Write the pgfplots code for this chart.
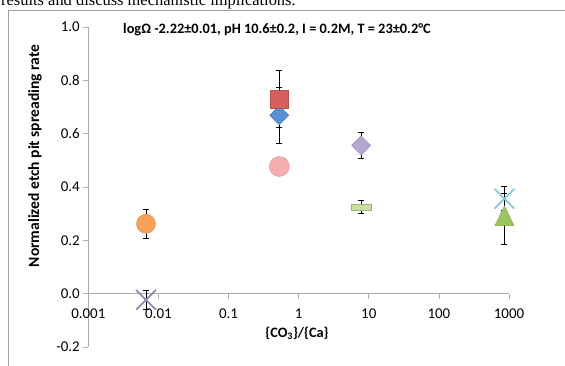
\documentclass[border=0pt]{standalone}
\usepackage{pgfplots}
\pgfplotsset{compat=1.18}
\usepackage{fontspec}
\setmainfont{Carlito}
\newfontfamily\serifdoc{Liberation Serif}
\definecolor{cRed}{HTML}{D6605E}
\definecolor{cBlue}{HTML}{5B8FD3}
\definecolor{cPink}{HTML}{F4AEAE}
\definecolor{cPurple}{HTML}{B6A6D3}
\definecolor{cLgreen}{HTML}{C9DFA0}
\definecolor{cOrange}{HTML}{F9A257}
\definecolor{cGreen}{HTML}{9CC45E}
\definecolor{cLblue}{HTML}{8CC6DA}
\definecolor{cGray}{HTML}{9488B0}
\begin{document}
\begin{tikzpicture}[x=1bp,y=1bp]
\useasboundingbox (0,0) rectangle (565,365);
\node[anchor=base west, font=\serifdoc\fontsize{16.5}{20}\selectfont, inner sep=0] at (1,360) {results and discuss mechanistic implications.};
\draw[gray!75, line width=0.8bp] (8,-5) -- (8,355) -- (575,355);
\begin{axis}[
  at={(88.3bp,18bp)}, anchor=south west,
  scale only axis, width=420.7bp, height=320bp,
  xmode=log, xmin=0.001, xmax=1000, ymin=-0.2, ymax=1.0,
  axis y line*=left, axis x line*=middle,
  hide obscured x ticks=false, hide obscured y ticks=false,
  axis line style={gray!65, line width=0.7bp},
  xtick={0.001,0.01,0.1,1,10,100,1000},
  xticklabels={0.001,0.01,0.1,1,10,100,1000},
  xminorticks=false,
  ytick={-0.2,0,0.2,0.4,0.6,0.8,1.0},
  yticklabel style={/pgf/number format/.cd, fixed, fixed zerofill, precision=1},
  xticklabel style={yshift=-7bp},
  /pgf/number format/assume math mode=true,
  tick style={gray!65, line width=0.7bp},
  major tick length=5bp, tick align=outside,
  ticklabel style={font=\fontsize{15}{18}\selectfont},
  clip=false,
  error bars/y dir=both, error bars/y explicit,
  error bars/error bar style={black, line width=0.7bp},
  error bars/error mark options={rotate=90, black, mark size=3bp, line width=0.7bp},
]
% orange circle
\addplot[only marks, mark=*, mark size=9.5bp, mark options={fill=cOrange, draw=cOrange!85!black, line width=0.4bp}]
  table[x=x, y=y, y error=e] {
x y e
0.00665 0.262 0.055
};
% gray-purple x
\addplot[only marks, mark=x, mark size=14bp, mark options={draw=cGray, line width=1.8bp}]
  table[x=x, y=y, y error=e] {
x y e
0.00665 -0.023 0.035
};
% blue diamond
\addplot[only marks, mark=square*, mark size=6.8bp, mark options={rotate=45, fill=cBlue, draw=cBlue!85!black, line width=0.4bp}]
  table[x=x, y=y, y error=e] {
x y e
0.53 0.669 0.104
};
% red square
\addplot[only marks, mark=square*, mark size=9.2bp, mark options={fill=cRed, draw=cRed!85!black, line width=0.4bp}]
  table[x=x, y=y, y error=e] {
x y e
0.53 0.729 0.107
};
% pink circle
\addplot[only marks, mark=*, mark size=10bp, mark options={fill=cPink, draw=cPink!85!black, line width=0.4bp}]
  table[x=x, y=y, y error=e] {
x y e
0.53 0.477 0
};
% purple diamond
\addplot[only marks, mark=square*, mark size=6.8bp, mark options={rotate=45, fill=cPurple, draw=cPurple!85!black, line width=0.4bp}]
  table[x=x, y=y, y error=e] {
x y e
7.8 0.556 0.048
};
% light green dash
\addplot[only marks, mark=square*, mark size=10bp, mark options={yscale=0.3, fill=cLgreen, draw=cLgreen!80!black, line width=0.4bp}]
  table[x=x, y=y, y error=e] {
x y e
7.8 0.326 0.024
};
% green triangle
\addplot[only marks, mark=triangle*, mark size=11bp, mark options={yscale=1.2, fill=cGreen, draw=cGreen!85!black, line width=0.4bp}]
  table[x=x, y=y, y error=e] {
x y e
860 0.28 0.095
};
% light blue x
\addplot[only marks, mark=x, mark size=14bp, mark options={draw=cLblue, line width=1.8bp}]
  table[x=x, y=y, y error=e] {
x y e
860 0.356 0.045
};
\end{axis}
\node[font=\bfseries\fontsize{14.4}{17}\selectfont] at (277,335) {logΩ -2.22±0.01, pH 10.6±0.2, I = 0.2M, T = 23±0.2°C};
\node[rotate=90, font=\bfseries\fontsize{15.6}{18}\selectfont] at (35,209) {Normalized etch pit spreading rate};
\node[font=\bfseries\fontsize{14.4}{17}\selectfont] at (297,32) {\{CO\textsubscript{3}\}/\{Ca\}};
\end{tikzpicture}
\end{document}
